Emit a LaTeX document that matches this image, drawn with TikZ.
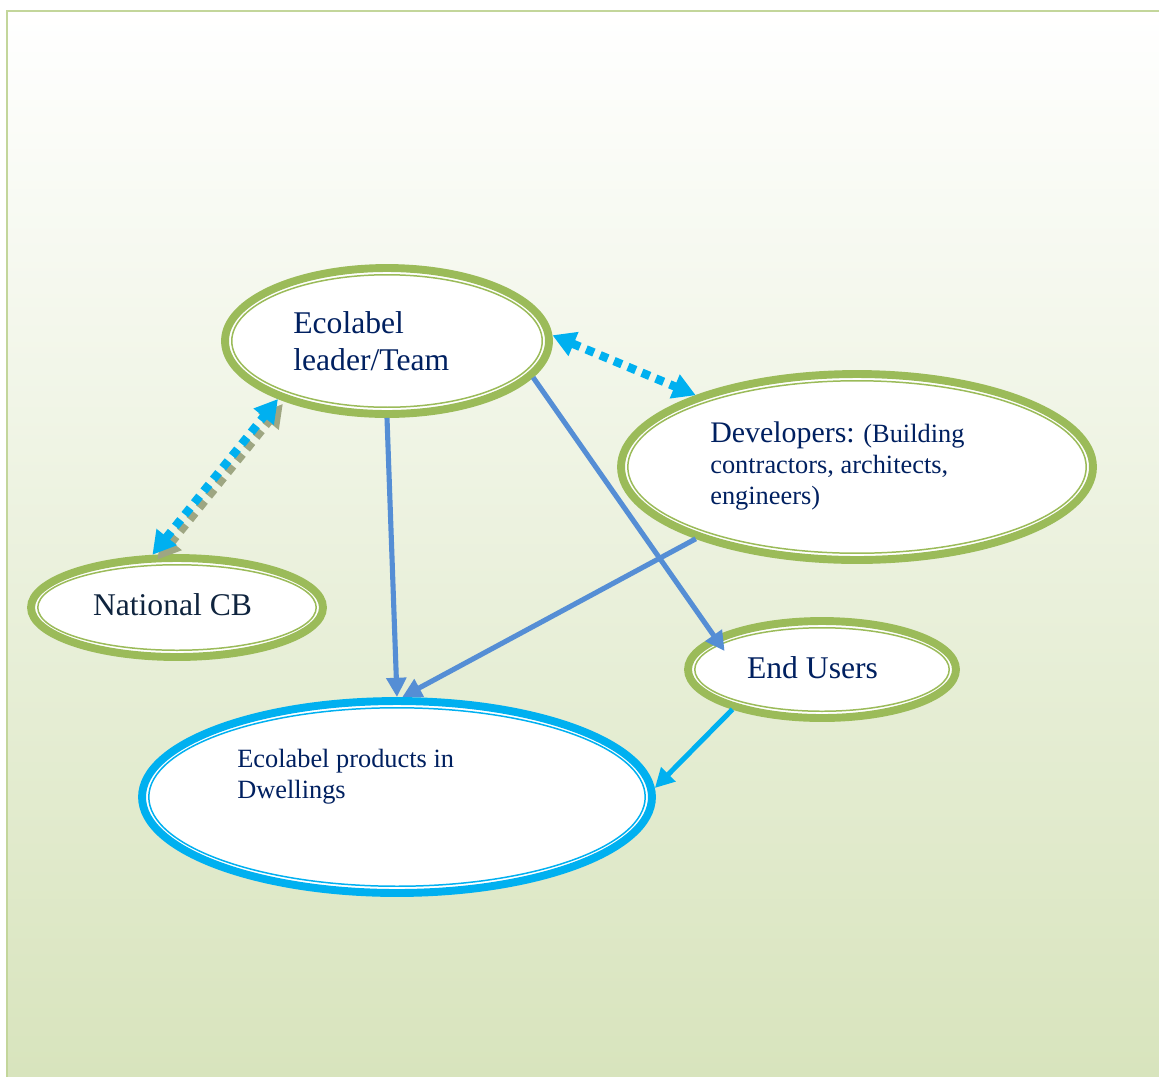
\documentclass[tikz,border=0pt]{standalone}
\usepackage{fontspec}
\setmainfont{Liberation Serif}
\usetikzlibrary{shapes.geometric,arrows.meta}
\definecolor{ringgreen}{RGB}{155,187,89}
\definecolor{prodcyan}{RGB}{0,176,240}
\definecolor{flowblue}{RGB}{85,142,213}
\definecolor{navy}{RGB}{0,32,96}
\definecolor{darknavy}{RGB}{15,36,62}
\definecolor{framegreen}{RGB}{195,214,155}
\definecolor{bggreen}{RGB}{216,228,189}
\definecolor{shadowgray}{RGB}{158,166,130}
\tikzset{
  ring/.style={ellipse, draw=ringgreen, line width=4.5pt, fill=white, inner sep=0pt},
  inring/.style={draw=ringgreen, line width=0.85pt},
  txt/.style={text=navy, inner sep=0pt, align=left, anchor=west},
  flow/.style={draw=flowblue, line width=2.9pt, -{Triangle[length=11pt,width=11pt]}},
  dots/.style={line width=4.8pt, dash pattern=on 4.8pt off 3.8pt,
    {Triangle[length=13pt,width=14pt]}-{Triangle[length=13pt,width=14pt]}},
  link/.style={dots, draw=prodcyan},
  shadowed/.style={preaction={dots, draw=shadowgray, transform canvas={xshift=2.8pt,yshift=-2.8pt}}}
}
\begin{document}
\begin{tikzpicture}[x=0.02cm, y=-0.02cm]
  \path[use as bounding box, clip] (0,0) rectangle (1159,1076);
  % background panel
  \shade[top color=white, bottom color=bggreen] (7,11) rectangle (1159,1076);
  \draw[framegreen, line width=1.3pt] (7.2,11.2) rectangle (1175,1095);

  % stakeholders
  \node[ring, minimum width=6.48cm, minimum height=2.92cm] (ldr) at (387,341) {};
  \node[ring, minimum width=9.44cm, minimum height=3.72cm] (dev) at (857,467) {};
  \node[ring, minimum width=5.84cm, minimum height=1.98cm] (ncb) at (177,607.5) {};
  \node[ring, minimum width=5.36cm, minimum height=1.94cm] (usr) at (822,669.5) {};
  \node[ring, draw=prodcyan, minimum width=10.2cm, minimum height=3.84cm] (prd) at (397,797) {};
  \draw[inring] (ldr.center) ellipse [x radius=3.105cm, y radius=1.325cm];
  \draw[inring] (dev.center) ellipse [x radius=4.585cm, y radius=1.725cm];
  \draw[inring] (ncb.center) ellipse [x radius=2.785cm, y radius=0.855cm];
  \draw[inring] (usr.center) ellipse [x radius=2.545cm, y radius=0.835cm];
  \draw[inring, draw=prodcyan] (prd.center) ellipse [x radius=4.965cm, y radius=1.785cm];

  \node[txt, font=\fontsize{18pt}{20.75pt}\selectfont] (ldrtxt) at (293,341) {Ecolabel\\leader/Team};
  \node[txt, font=\fontsize{15pt}{17.9pt}\selectfont] (devtxt) at (710,466)
    {{\fontsize{17pt}{17.9pt}\selectfont Developers:} (Building\\contractors, architects,\\engineers)};
  \node[txt, anchor=center, text=darknavy, font=\fontsize{18pt}{20pt}\selectfont] (ncbtxt) at (172.5,605) {National CB};
  \node[txt, anchor=center, font=\fontsize{18pt}{20pt}\selectfont] (usrtxt) at (812.5,668) {End Users};
  \node[txt, font=\fontsize{15pt}{17.75pt}\selectfont] (prdtxt) at (237,777) {Ecolabel products in\\Dwellings};

  % flows
  \draw[flow] (ldr.south) -- (prd.north);
  \draw[flow] (dev.204) -- (prd.87);
  \draw[flow, shorten >=-10pt] (ldr.-14) -- (usr.163);
  \draw[flow, draw=prodcyan] (usr.204) -- (prd.2);
  \draw[link] (ldr.2) -- (dev.156);
  \draw[link, shadowed] (ncb.115) -- (ldr.208);
\end{tikzpicture}
\end{document}
